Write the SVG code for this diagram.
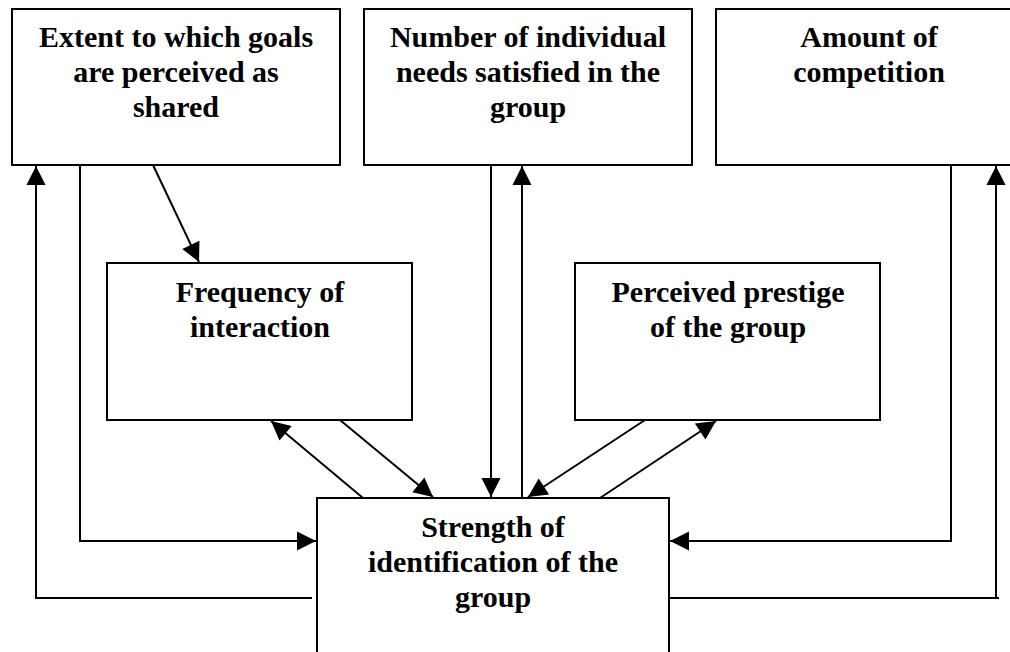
<svg xmlns="http://www.w3.org/2000/svg" width="1010" height="652" viewBox="0 0 1010 652">
<style>
.box{fill:#fff;stroke:#000;stroke-width:2}
.t{font-family:"Liberation Serif","Times New Roman",serif;font-weight:bold;font-size:30px;fill:#000;text-anchor:middle}
.c{fill:none;stroke:#000;stroke-width:2}
</style>
<defs>
<marker id="ah" markerWidth="10" markerHeight="10" viewBox="0 0 10 10" refX="10" refY="5" orient="auto" markerUnits="userSpaceOnUse" style="overflow:visible">
<path d="M0,-4.5 L19,5 L0,14.5 Z" transform="translate(-9,0)" fill="#000"/>
</marker>
</defs>
<g id="n1"><rect class="box" x="12" y="9" width="328" height="156"/>
<text class="t" x="176" y="47">Extent to which goals</text>
<text class="t" x="176" y="82">are perceived as</text>
<text class="t" x="176" y="117">shared</text></g>
<g id="n2"><rect class="box" x="364" y="9" width="328" height="156"/>
<text class="t" x="528" y="47">Number of individual</text>
<text class="t" x="528" y="82">needs satisfied in the</text>
<text class="t" x="528" y="117">group</text></g>
<g id="n3"><rect class="box" x="716" y="9" width="306" height="156"/>
<text class="t" x="869" y="47">Amount of</text>
<text class="t" x="869" y="82">competition</text></g>
<g id="n4"><rect class="box" x="107" y="263" width="305" height="157"/>
<text class="t" x="260" y="302">Frequency of</text>
<text class="t" x="260" y="337">interaction</text></g>
<g id="n5"><rect class="box" x="575" y="263" width="305" height="157"/>
<text class="t" x="728" y="302">Perceived prestige</text>
<text class="t" x="728" y="337">of the group</text></g>
<g id="n6"><rect class="box" x="317" y="498" width="352" height="170"/>
<text class="t" x="493" y="537">Strength of</text>
<text class="t" x="493" y="572">identification of the</text>
<text class="t" x="493" y="607">group</text></g>
<g id="connectors">
<polyline class="c" points="312,598 36,598 36,166" marker-end="url(#ah)"/>
<polyline class="c" points="80,165 80,541 316,541" marker-end="url(#ah)"/>
<line class="c" x1="153" y1="165" x2="199" y2="262" marker-end="url(#ah)"/>
<line class="c" x1="363" y1="498" x2="271" y2="421" marker-end="url(#ah)"/>
<line class="c" x1="340" y1="420" x2="433" y2="497" marker-end="url(#ah)"/>
<line class="c" x1="491" y1="165" x2="491" y2="497" marker-end="url(#ah)"/>
<line class="c" x1="522" y1="498" x2="522" y2="166" marker-end="url(#ah)"/>
<line class="c" x1="645" y1="420" x2="528" y2="497" marker-end="url(#ah)"/>
<line class="c" x1="600" y1="498" x2="716" y2="421" marker-end="url(#ah)"/>
<polyline class="c" points="951,165 951,541 670,541" marker-end="url(#ah)"/>
<polyline class="c" points="669,598 999,598"/>
<line class="c" x1="996" y1="598" x2="996" y2="166" marker-end="url(#ah)"/>
</g>
</svg>
